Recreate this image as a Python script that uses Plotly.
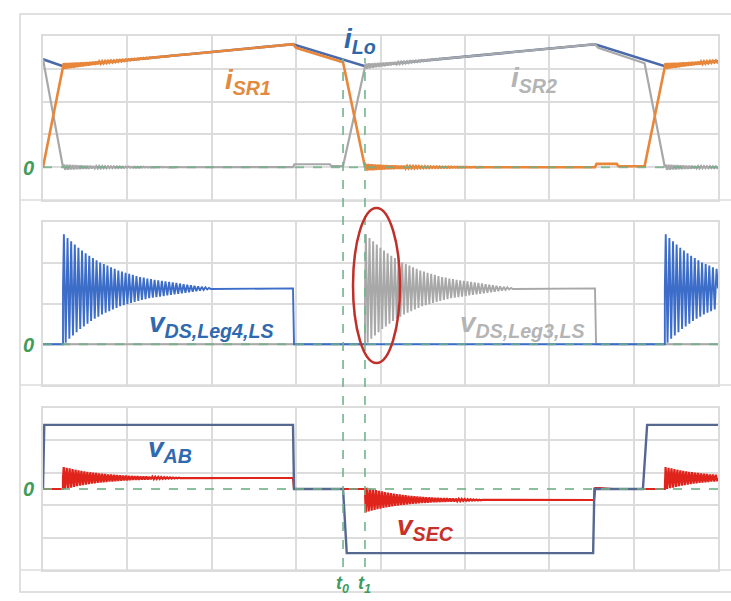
import plotly.graph_objects as go

# ---------------- figure geometry (pixels) ----------------
W, H = 731, 601
PL, PR, PT, PB = 43, 718, 36, 570   # plot area edges

# ---------------- data (time in grid divisions, 0..8) ----------------
# Panel 1: currents (grid units, 0 = zero line)
t_ilo = [0.0, 0.237, 2.963, 3.816, 6.542, 7.37, 8.0]
i_lo = [3.29, 3.08, 3.75, 3.08, 3.75, 3.08, 3.23]

t_isr1 = [0.0, 0.237, 2.963, 3.00, 3.556, 3.816, 6.542, 6.56, 6.80, 6.82, 7.13, 7.37, 8.0]
i_sr1 = [0.0, 3.08, 3.75, 3.64, 3.20, 0.0, 0.0, 0.10, 0.10, 0.03, 0.03, 3.08, 3.23]
r_isr1 = [0, 0.09, 0, 0, 0, 0.10, 0, 0, 0, 0, 0, 0.09, 0]

t_isr2 = [0.0, 0.237, 2.963, 2.98, 3.40, 3.42, 3.556, 3.816, 6.542, 6.58, 7.13, 7.37, 8.0]
i_sr2 = [3.29, 0.0, 0.0, 0.09, 0.09, 0.03, 0.03, 3.08, 3.75, 3.64, 3.17, 0.0, 0.0]
r_isr2 = [0, 0.08, 0, 0, 0, 0, 0, 0.08, 0, 0, 0, 0.08, 0]

# Panel 2: drain-source voltages
t_vds4 = [0.0, 0.237, 0.237, 2.963, 2.975, 7.37, 7.37, 8.0]
v_vds4 = [0.0, 0.0, 1.37, 1.37, 0.0, 0.0, 1.37, 1.37]
r_vds4 = [0, 0, 1.33, 0, 0, 0, 1.33, 0]

t_vds3 = [0.0, 3.816, 3.816, 6.542, 6.555, 8.0]
v_vds3 = [0.0, 0.0, 1.37, 1.37, 0.0, 0.0]
r_vds3 = [0, 0, 1.33, 0, 0, 0]

# Panel 3: bridge and secondary voltages
t_vab = [0.0, 0.015, 2.963, 2.975, 3.556, 3.60, 6.52, 6.535, 7.11, 7.16, 8.0]
v_vab = [0.0, 1.98, 1.98, 0.0, 0.0, -1.98, -1.98, 0.0, 0.0, 1.98, 1.98]

t_vsec = [0.0, 0.237, 0.237, 2.963, 2.975, 3.816, 3.816, 6.53, 6.545, 6.60, 6.75, 7.37, 7.37, 8.0]
v_vsec = [0.0, 0.0, 0.34, 0.34, 0.0, 0.0, -0.34, -0.34, 0.03, 0.03, 0.0, 0.0, 0.34, 0.34]
r_vsec = [0, 0, 0.34, 0, 0, 0, -0.38, 0, 0, 0, 0, 0, 0.34, 0]

# decay envelope of the ringing, cycle by cycle (relative amplitude)
ring_env = [1.00, 0.93, 0.87, 0.81, 0.75, 0.70, 0.65, 0.60, 0.56, 0.52, 0.48, 0.45,
            0.42, 0.39, 0.36, 0.33, 0.31, 0.29, 0.27, 0.25, 0.23, 0.21, 0.20, 0.18,
            0.17, 0.16, 0.15, 0.14, 0.13, 0.12, 0.11, 0.10, 0.09, 0.08, 0.07, 0.06,
            0.05, 0.04, 0.03, 0.02, 0.01]
period_v = 0.043
period_s = 0.035
period_i = 0.035

t_marks = [3.556, 3.816]          # t0, t1


def build(t, y, amp=None, period=0.05):
    xs, ys = [], []
    for i in range(len(t)):
        xs.append(t[i]); ys.append(y[i])
        if amp is not None and i < len(t) - 1 and amp[i] != 0:
            ta, tb, ya, yb = t[i], t[i + 1], y[i], y[i + 1]
            for k, e in enumerate(ring_env):
                stop = False
                for frac, sgn in ((0.25, 1), (0.75, -1)):
                    tk = ta + (k + frac) * period
                    if tk >= tb:
                        stop = True
                        break
                    base = ya + (yb - ya) * (tk - ta) / (tb - ta)
                    xs.append(tk); ys.append(base + sgn * amp[i] * e)
                if stop:
                    break
    return xs, ys


BLUE_I = "#4a6aab"
BLUE_V = "#3c6dc8"
BLUE_AB = "#556890"
ORANGE = "#e8863a"
GRAY = "#a8a8a8"
RED = "#e0241c"
GREEN = "#3f9c5a"

fig = go.Figure()


def add(t, y, amp, period, color, axis, width=2.0):
    xs, ys = build(t, y, amp, period)
    fig.add_trace(go.Scatter(x=xs, y=ys, mode="lines", xaxis="x" + axis, yaxis="y" + axis,
                             line=dict(color=color, width=width), hoverinfo="skip",
                             showlegend=False))


# panel 1
add(t_ilo, i_lo, None, period_i, BLUE_I, "", 2.6)
add(t_isr2, i_sr2, r_isr2, period_i, GRAY, "", 2.2)
add(t_isr1, i_sr1, r_isr1, period_i, ORANGE, "", 2.6)
# panel 2
add(t_vds3, v_vds3, r_vds3, period_v, GRAY, "2", 1.9)
add(t_vds4, v_vds4, r_vds4, period_v, BLUE_V, "2", 1.9)
# panel 3
add(t_vsec, v_vsec, r_vsec, period_s, RED, "3", 2.2)
add(t_vab, v_vab, None, period_s, BLUE_AB, "3", 2.4)

GRID = "#dcdcdc"


def px_y(y):
    return (PB - y) / (PB - PT)


def px_x(x):
    return (x - PL) / (PR - PL)


dom1 = [px_y(200), 1.0]
dom2 = [px_y(385), px_y(222)]
dom3 = [0.0, px_y(408)]

xcommon = dict(range=[0, 8], dtick=1, tick0=0, showgrid=True, gridcolor=GRID, gridwidth=1.5,
               showticklabels=False, ticks="", zeroline=False, showline=True, mirror=True,
               linecolor=GRID, linewidth=1.5, domain=[0, 1])
ycommon = dict(dtick=1, showgrid=True, gridcolor=GRID, gridwidth=1.5, showticklabels=False,
               ticks="", zeroline=False, showline=True, mirror=True, linecolor=GRID, linewidth=1.5)

shapes = []
# outer frame and full-width separators
shapes.append(dict(type="rect", xref="paper", yref="paper", x0=px_x(20), x1=px_x(745),
                   y0=px_y(592), y1=px_y(14), line=dict(color="#d6d6d6", width=1.5), layer="below"))
for yy in (200, 385, 570):
    shapes.append(dict(type="line", xref="paper", yref="paper", x0=px_x(20), x1=px_x(745),
                       y0=px_y(yy), y1=px_y(yy), line=dict(color=GRID, width=1.5), layer="below"))
# dashed zero lines
for ax in ("y", "y2", "y3"):
    xr = "x" if ax == "y" else "x" + ax[1:]
    shapes.append(dict(type="line", xref=xr, yref=ax, x0=0, x1=8, y0=0, y1=0,
                       line=dict(color="#6fb088", width=2, dash="dash"), opacity=0.8, layer="above"))
# t0/t1 markers
for tm in t_marks:
    shapes.append(dict(type="line", xref="x3", yref="paper", x0=tm, x1=tm, y0=px_y(567), y1=px_y(58),
                       line=dict(color="#72b48c", width=1.6, dash="dash"), layer="above"))
# red ellipse
shapes.append(dict(type="circle", xref="paper", yref="paper", x0=px_x(353), x1=px_x(400),
                   y0=px_y(363), y1=px_y(208), line=dict(color="#c0302a", width=2.5), layer="above"))

FONT = "Liberation Sans, Arial, sans-serif"


def ann(text, x, y, color, size=28, xanchor="center"):
    return dict(text=text, x=px_x(x), y=px_y(y), xref="paper", yref="paper", showarrow=False,
                font=dict(color=color, size=size, family=FONT), xanchor=xanchor, yanchor="middle")


annotations = [
    ann("<b><i>i<sub>Lo</sub></i></b>", 360, 40, "#2f67a8"),
    ann("<b><i>i<sub>SR1</sub></i></b>", 248, 81, "#e28a3e"),
    ann("<b><i>i<sub>SR2</sub></i></b>", 534, 80, "#b4b4b4"),
    ann("<b><i>v<sub>DS,Leg4,LS</sub></i></b>", 211, 324, "#2f6ab0"),
    ann("<b><i>v<sub>DS,Leg3,LS</sub></i></b>", 522, 324, "#b4b4b4"),
    ann("<b><i>v<sub>AB</sub></i></b>", 170, 449, "#2f6ab0"),
    ann("<b><i>v<sub>SEC</sub></i></b>", 425, 527, "#c8302a"),
    ann("<b><i>0</i></b>", 28, 168, GREEN, 20),
    ann("<b><i>0</i></b>", 28, 345, GREEN, 20),
    ann("<b><i>0</i></b>", 28, 489, GREEN, 20),
    ann("<b><i>t<sub>0</sub></i></b>", 342, 584, GREEN, 18),
    ann("<b><i>t<sub>1</sub></i></b>", 364, 584, GREEN, 18),
]

fig.update_layout(
    width=W, height=H, autosize=False,
    margin=dict(l=PL, r=W - PR, t=PT, b=H - PB, pad=0),
    paper_bgcolor="white", plot_bgcolor="white",
    showlegend=False,
    xaxis=dict(xcommon, anchor="y"),
    xaxis2=dict(xcommon, anchor="y2", matches="x"),
    xaxis3=dict(xcommon, anchor="y3", matches="x"),
    yaxis=dict(ycommon, range=[-1, 4], domain=dom1, anchor="x"),
    yaxis2=dict(ycommon, range=[-1, 3], domain=dom2, anchor="x2"),
    yaxis3=dict(ycommon, range=[-2.5, 2.5], tick0=0.5, domain=dom3, anchor="x3"),
    shapes=shapes,
    annotations=annotations,
)

fig.write_html("out.html", config={"displayModeBar": False},
               post_script="document.body.style.margin='0';")
